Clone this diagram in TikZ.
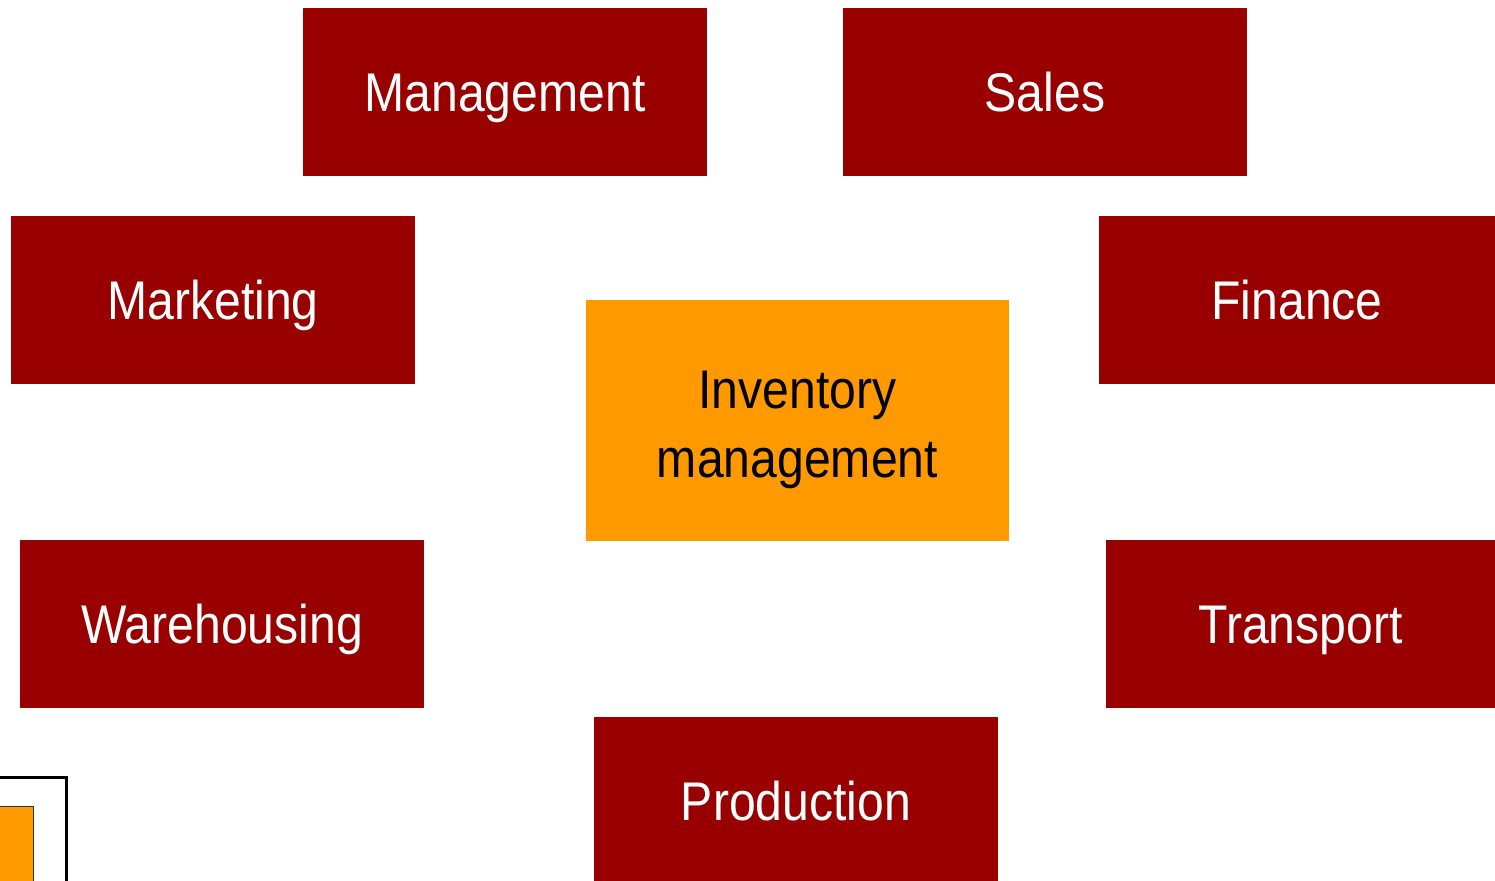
\documentclass[tikz,border=0pt]{standalone}
\usepackage{fontspec}
\newfontfamily\narrowfont[FakeStretch=0.884]{Liberation Sans}
\definecolor{deptred}{HTML}{990000}
\definecolor{hubbg}{HTML}{FF9900}
\begin{document}
\begin{tikzpicture}[x=0.02cm,y=-0.02cm,
		dept/.style={fill=deptred, text=white, minimum width=8.08cm, minimum height=3.36cm, inner sep=0pt, text height=0.79cm, text depth=0pt, font=\narrowfont\fontsize{31}{35}\selectfont},
		hub/.style={fill=hubbg, text=black, minimum width=8.46cm, minimum height=4.82cm, inner sep=0pt, text height=2.3cm, text depth=0pt, align=center, font=\narrowfont\fontsize{31}{39.7}\selectfont}]
		\useasboundingbox (0,0) rectangle (1495,881);
		%Centres of the boxes
		\coordinate (cManagement) at (505,92);
		\coordinate (cSales) at (1045,92);
		\coordinate (cMarketing) at (213,300);
		\coordinate (cFinance) at (1297,300);
		\coordinate (cInventory) at (797.5,420.5);
		\coordinate (cWarehousing) at (222,624);
		\coordinate (cTransport) at (1300.5,624);
		\coordinate (cProduction) at (796,801);
		%The departments round the hub
		\node [dept] (management) at (cManagement) {Management};
		\node [dept] (sales) at (cSales) {Sales};
		\node [dept] (marketing) at (cMarketing) {Marketing};
		\node [dept, minimum width=7.92cm] (finance) at (cFinance) {Finance};
		\node [dept] (warehousing) at (cWarehousing) {Warehousing};
		\node [dept, minimum width=7.78cm] (transport) at (cTransport) {Transport};
		\node [dept] (production) at (cProduction) {Production};
		%The hub
		\node [hub] (inventory) at (cInventory) {Inventory\\management};
		%Frame in the lower left corner
		\draw [line width=0.06cm] (-10,777) rectangle (66,900);
		\draw [fill=hubbg, draw=black!80, line width=0.02cm] (-10,806) rectangle (33,900);
\end{tikzpicture}
\end{document}
